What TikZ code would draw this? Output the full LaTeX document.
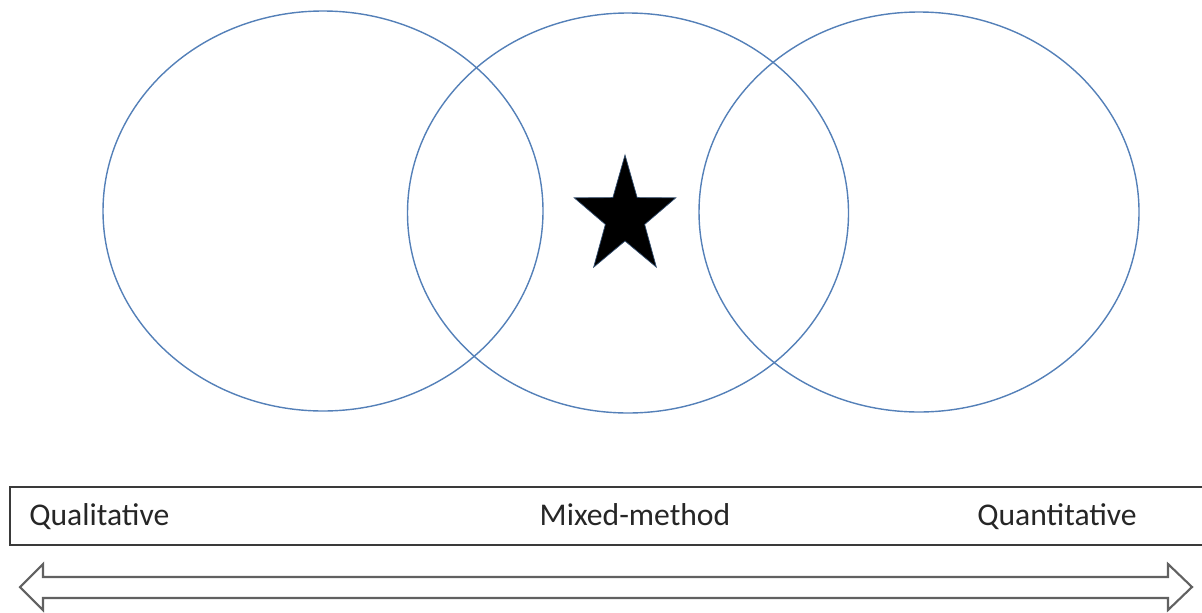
\documentclass[tikz,border=0pt]{standalone}
\usepackage{fontspec}
\setmainfont{Carlito}
\usepackage{xcolor}
\usepackage{tikz}
\definecolor{ring}{HTML}{5480B8}
\definecolor{edge}{HTML}{3A3A3A}
\tikzset{
  circ/.style={draw=ring,line width=0.8pt},
  endtext/.style={font=\fontsize{18}{20}\selectfont,color=black!85,anchor=base}
}
\newcommand{\starat}[2]{%
  \begin{scope}[shift={(#1,#2)},xscale=0.86]
    \filldraw[fill=black,draw=ring!60!black,line width=0.4pt]
      (-90:62) \foreach \a in {1,...,9}{ -- (-90+36*\a:{mod(\a,2)==1 ? 24 : 62}) } -- cycle;
  \end{scope}}

\begin{document}
\begin{tikzpicture}[x=0.02cm,y=-0.02cm]
\useasboundingbox (0,0) rectangle (1202,612);
\clip (0,0) rectangle (1202,612);
\draw[circ] (323,211) ellipse (220 and 200);
\draw[circ] (628,213) ellipse (220.5 and 200);
\draw[circ] (919,212) ellipse (220 and 200);
\starat{625}{217}
\draw[edge,line width=1pt] (10,487) rectangle (1215,545);
\node[endtext,anchor=base west,inner sep=0pt] (qual) at (29,525) {Qualitative};
\node[endtext] (mixed) at (635,525) {Mixed-method};
\node[endtext] (quant) at (1057,525) {Quantitative};
% double arrow along the bottom
\draw[edge!80,line width=1.2pt,line join=miter,fill=white]
  (20,587) -- (43,564) -- (43,577) -- (1168,577) -- (1168,564) -- (1192,587)
  -- (1168,610) -- (1168,598) -- (43,598) -- (43,610) -- cycle;
\end{tikzpicture}
\end{document}
